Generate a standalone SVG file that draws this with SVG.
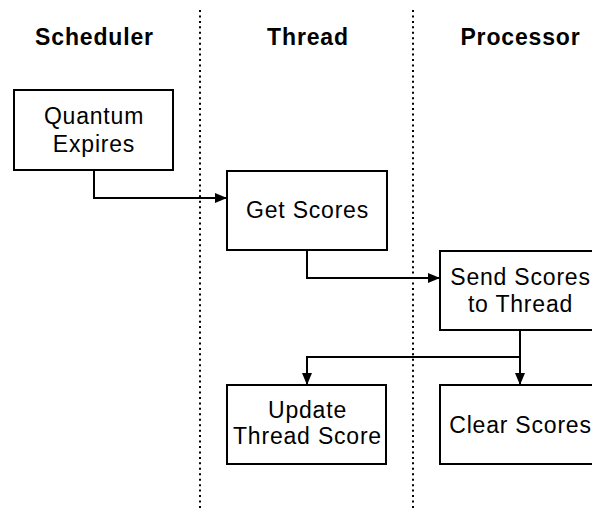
<svg xmlns="http://www.w3.org/2000/svg" width="592" height="511" viewBox="0 0 592 511">
  <style>
    .lane { stroke: #000; stroke-width: 2; stroke-dasharray: 2 3.45; fill: none; }
    .box { fill: #fff; stroke: #000; stroke-width: 2; }
    .conn { fill: none; stroke: #000; stroke-width: 2; }
    .head { font-family: "Liberation Sans", Arial, sans-serif; font-weight: bold; font-size: 23px; letter-spacing: 0.85px; text-anchor: middle; fill: #000; }
    .label { font-family: "Liberation Sans", Arial, sans-serif; font-size: 23px; letter-spacing: 0.8px; text-anchor: middle; fill: #000; }
  </style>
  <defs>
    <marker id="arrow" markerUnits="userSpaceOnUse" markerWidth="12" markerHeight="10" refX="12" refY="5" orient="auto">
      <path d="M0,0 L12,5 L0,10 z" fill="#000"/>
    </marker>
  </defs>
  <rect width="592" height="511" fill="#fff"/>

  <!-- swimlane separators -->
  <g id="lanes">
    <line class="lane" x1="200" y1="10" x2="200" y2="511"/>
    <line class="lane" x1="413" y1="10" x2="413" y2="511"/>
  </g>

  <!-- lane headings -->
  <g id="headings">
    <text class="head" x="94.5" y="45">Scheduler</text>
    <text class="head" x="308" y="45">Thread</text>
    <text class="head" x="520.5" y="45">Processor</text>
  </g>

  <!-- connectors -->
  <g id="connectors">
    <path class="conn" d="M94,171 V198 H227" marker-end="url(#arrow)"/>
    <path class="conn" d="M307,250 V278 H440" marker-end="url(#arrow)"/>
    <path class="conn" d="M520,330 V357 H307 V385" marker-end="url(#arrow)"/>
    <path class="conn" d="M520,357 V385" marker-end="url(#arrow)"/>
  </g>

  <g id="quantum-expires">
    <rect class="box" x="14" y="90" width="159" height="80"/>
    <text class="label" x="94" y="124">Quantum</text>
    <text class="label" x="94" y="152">Expires</text>
  </g>

  <g id="get-scores">
    <rect class="box" x="227" y="171" width="160" height="79"/>
    <text class="label" x="307.5" y="218">Get Scores</text>
  </g>

  <g id="send-scores">
    <rect class="box" x="440" y="251" width="162" height="79"/>
    <text class="label" x="520.5" y="285">Send Scores</text>
    <text class="label" x="520.5" y="312">to Thread</text>
  </g>

  <g id="update-thread-score">
    <rect class="box" x="227" y="385" width="159" height="79"/>
    <text class="label" x="307.5" y="418">Update</text>
    <text class="label" x="307.5" y="444">Thread Score</text>
  </g>

  <g id="clear-scores">
    <rect class="box" x="440" y="385" width="162" height="79"/>
    <text class="label" x="520.5" y="433">Clear Scores</text>
  </g>
</svg>
